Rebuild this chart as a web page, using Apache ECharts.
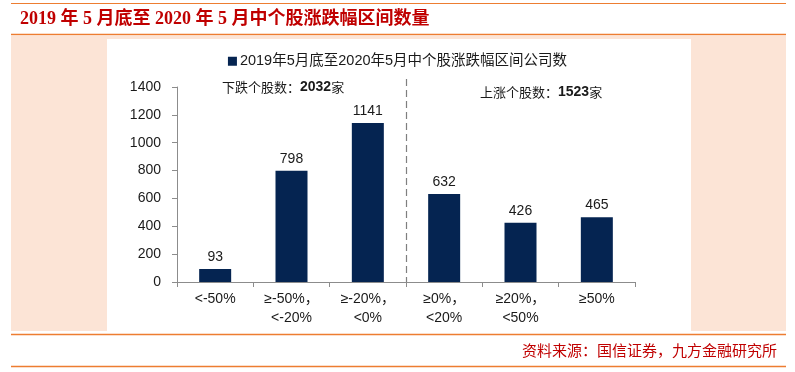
<!DOCTYPE html>
<html><head><meta charset="utf-8">
<script src="https://cdn.jsdelivr.net/npm/echarts@6/dist/echarts.min.js"></script>
<style>html,body{margin:0;padding:0;background:#fff}#c{width:795px;height:372px}</style>
</head><body><div id="c"></div>
<script>
const titleText = '2019 年 5 月底至 2020 年 5 月中个股涨跌幅区间数量';
const sourceText = '资料来源：国信证券，九方金融研究所';
const seriesName = '2019年5月底至2020年5月中个股涨跌幅区间公司数';
const categories = ['<-50%', '≥-50%，\n<-20%', '≥-20%，\n<0%', '≥0%，\n<20%', '≥20%，\n<50%', '≥50%'];
const values = [93, 798, 1141, 632, 426, 465];
const yMin = 0, yMax = 1400, yInterval = 200;
const downNote = ['下跌个股数：', '2032', '家'];
const upNote = ['上涨个股数：', '1523', '家'];

const SANS = "'Liberation Sans','Noto Sans CJK SC',sans-serif";
const CJK = "'Noto Sans CJK SC','Liberation Sans',sans-serif";
const ORANGE = '#ed7d31';
const RED = '#c00000';

const chart = echarts.init(document.getElementById('c'));
const baseGraphic = [
  {type:'rect', z:-20, silent:true, shape:{x:11,y:36,width:775,height:295}, style:{fill:'#fce4d6'}},
  {type:'rect', z:-19, silent:true, shape:{x:107,y:39,width:584,height:292}, style:{fill:'#ffffff'}},
  {type:'line', z:-18, silent:true, shape:{x1:11,y1:3.5,x2:786,y2:3.5}, style:{stroke:ORANGE,lineWidth:1}},
  {type:'line', z:-18, silent:true, shape:{x1:11,y1:34.5,x2:786,y2:34.5}, style:{stroke:ORANGE,lineWidth:1.5}},
  {type:'line', z:-18, silent:true, shape:{x1:11,y1:334.5,x2:786,y2:334.5}, style:{stroke:ORANGE,lineWidth:1.5}},
  {type:'line', z:-18, silent:true, shape:{x1:11,y1:366.5,x2:786,y2:366.5}, style:{stroke:ORANGE,lineWidth:1.5}},
  {type:'text', left:20, top:10, style:{text:titleText, fill:RED, font:"bold 18px 'Liberation Serif','Noto Sans CJK SC',serif"}},
  {type:'text', right:18, top:343, style:{text:sourceText, fill:RED, font:"15px 'Noto Sans CJK SC',sans-serif"}},
  {type:'text', left:222, top:80, style:{
    text:'{a|'+downNote[0]+'}{b|'+downNote[1]+'}{a|'+downNote[2]+'}',
    rich:{a:{fontFamily:CJK,fontSize:13,fill:'#1a1a1a'},b:{fontFamily:"'Liberation Sans',sans-serif",fontSize:14,fontWeight:'bold',fill:'#1a1a1a'}}}},
  {type:'text', left:480, top:85, style:{
    text:'{a|'+upNote[0]+'}{b|'+upNote[1]+'}{a|'+upNote[2]+'}',
    rich:{a:{fontFamily:CJK,fontSize:13,fill:'#1a1a1a'},b:{fontFamily:"'Liberation Sans',sans-serif",fontSize:14,fontWeight:'bold',fill:'#1a1a1a'}}}}
];

chart.setOption({
  animation:false,
  graphic: baseGraphic,
  legend:{
    data:[seriesName], top:49, left:'center', icon:'rect', itemWidth:9, itemHeight:9, itemGap:4,
    textStyle:{fontFamily:SANS, fontSize:14.5, color:'#1a1a1a', padding:[0,0,0,-2]}
  },
  grid:{left:177, right:160, top:87, bottom:90, containLabel:false},
  xAxis:{
    type:'category', data:categories,
    axisLine:{lineStyle:{color:'#8c8c8c'}},
    axisTick:{show:true, length:5, lineStyle:{color:'#8c8c8c'}},
    axisLabel:{fontFamily:SANS, fontSize:14, color:'#1a1a1a', margin:8, lineHeight:19, interval:0}
  },
  yAxis:{
    type:'value', min:yMin, max:yMax, interval:yInterval,
    axisLine:{show:true, lineStyle:{color:'#8c8c8c'}},
    axisTick:{show:true, length:5, lineStyle:{color:'#8c8c8c'}},
    splitLine:{show:false},
    axisLabel:{fontFamily:SANS, fontSize:14, color:'#1a1a1a', margin:16, formatter: v => String(v)}
  },
  series:[{
    name:seriesName, type:'bar', data:values, barWidth:32,
    itemStyle:{color:'#052451'},
    label:{show:true, position:'top', distance:5, fontFamily:SANS, fontSize:14, color:'#1a1a1a'}
  }]
});

const p2 = chart.convertToPixel({xAxisIndex:0}, 2);
const p3 = chart.convertToPixel({xAxisIndex:0}, 3);
const y0 = chart.convertToPixel({yAxisIndex:0}, 0);
const xd = Math.round((p2 + p3) / 2) + 0.5;
chart.setOption({graphic: baseGraphic.concat([
  {type:'line', silent:true, shape:{x1:xd, y1:79, x2:xd, y2:y0}, style:{stroke:'#7f7f7f', lineWidth:1.2, lineDash:[7,4]}}
])});
</script></body></html>
